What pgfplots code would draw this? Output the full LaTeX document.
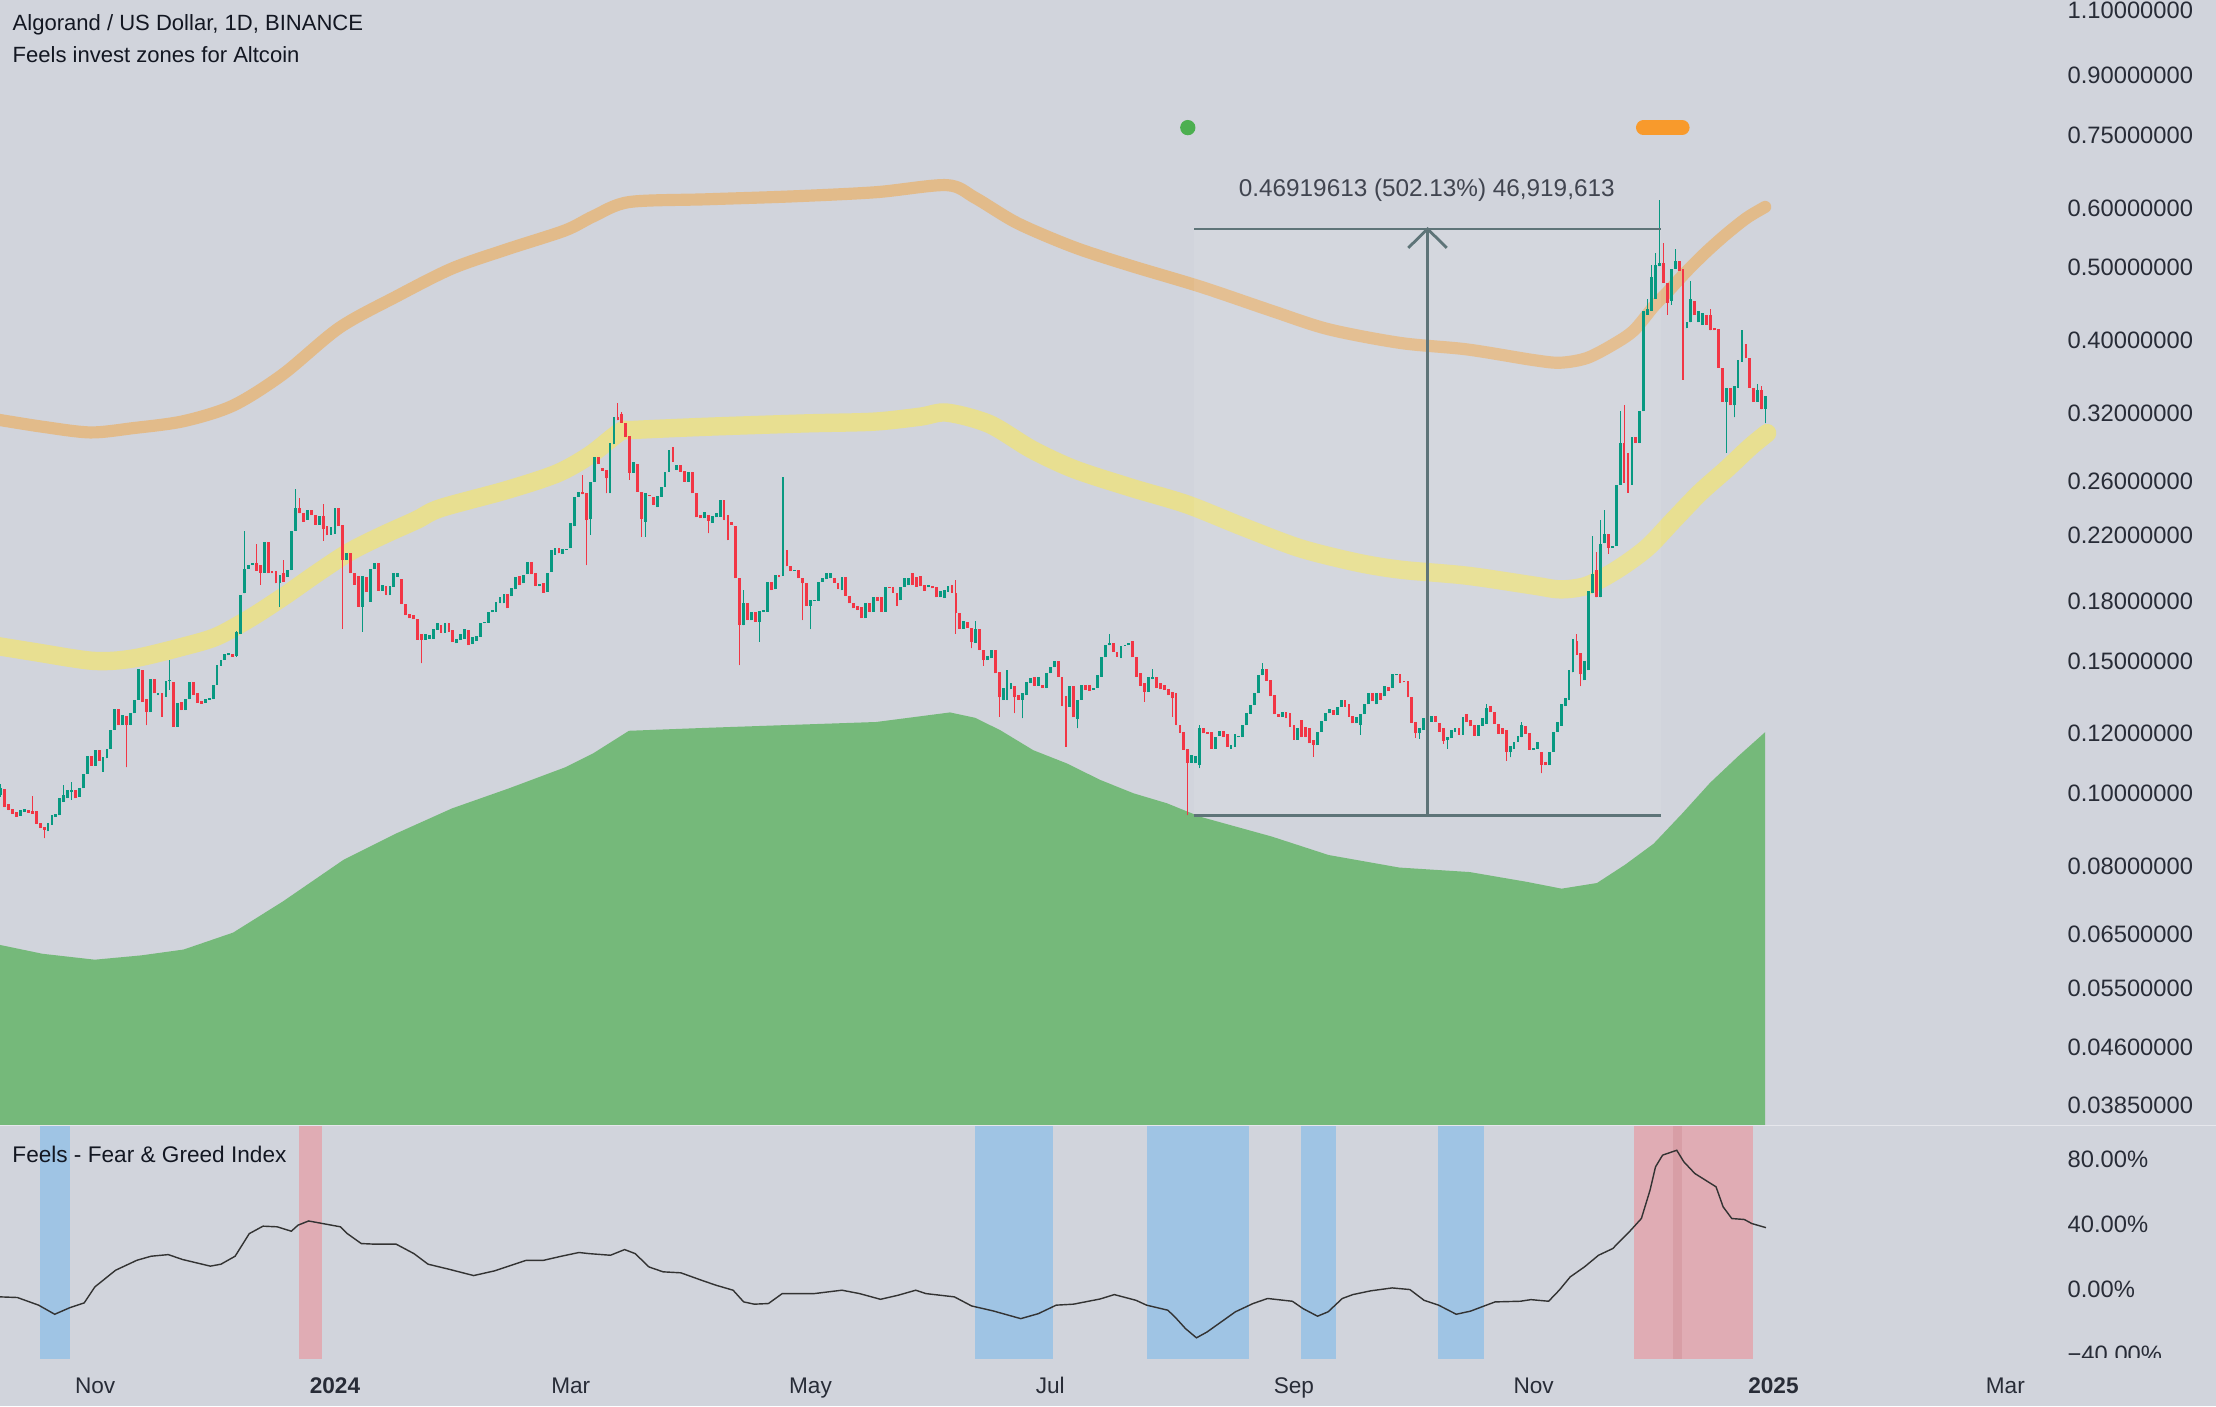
\documentclass[border=0pt]{standalone}
\usepackage{pgfplots}
\pgfplotsset{compat=1.18}
\usepackage{pgfplotstable}
\usepackage{fontspec}
\setmainfont{Liberation Sans}
\definecolor{bg}{RGB}{209,212,220}
\definecolor{upc}{RGB}{8,153,129}
\definecolor{dnc}{RGB}{242,54,69}
\definecolor{orb}{RGB}{226,187,138}
\definecolor{yeb}{RGB}{232,223,145}
\definecolor{gra}{RGB}{117,185,122}
\definecolor{txt}{RGB}{19,23,34}
\definecolor{lbl}{RGB}{40,44,55}
\definecolor{meas}{RGB}{94,116,120}
\definecolor{bluez}{RGB}{159,196,228}
\definecolor{redz}{RGB}{224,172,180}
\definecolor{redd}{RGB}{216,158,166}
\definecolor{dotg}{RGB}{76,175,80}
\definecolor{pill}{RGB}{248,154,44}
\pgfplotsset{candle/.style={only marks, mark size=0pt, mark options={draw=none, fill=none}}}

\pgfplotstableread{
x o c
-85 0.0995 0.1015
-84 0.1012 0.0959
-83 0.0968 0.0950
-82 0.0952 0.0940
-81 0.0945 0.0931
-80 0.0933 0.0950
-79 0.0945 0.0953
-78 0.0950 0.0942
-77 0.0947 0.0940
-76 0.0948 0.0911
-75 0.0912 0.0899
-74 0.0901 0.0894
-73 0.0890 0.0912
-72 0.0908 0.0935
-71 0.0931 0.0940
-70 0.0935 0.0985
-69 0.0975 0.0995
-68 0.0985 0.1010
-67 0.1005 0.1010
-66 0.1010 0.0985
-65 0.0990 0.1018
-64 0.1015 0.1062
-63 0.1062 0.1121
-62 0.1121 0.1088
-61 0.1088 0.1141
-60 0.1141 0.1105
-59 0.1105 0.1116
-58 0.1113 0.1147
-57 0.1147 0.1214
-56 0.1214 0.1293
-55 0.1293 0.1232
-54 0.1232 0.1271
-53 0.1267 0.1232
-52 0.1232 0.1277
-51 0.1277 0.1331
-50 0.1331 0.1462
-49 0.1459 0.1324
-48 0.1334 0.1284
-47 0.1281 0.1421
-46 0.1421 0.1358
-45 0.1351 0.1358
-44 0.1358 0.1344
-43 0.1344 0.1410
-42 0.1410 0.1413
-41 0.1407 0.1226
-40 0.1226 0.1320
-39 0.1324 0.1290
-38 0.1290 0.1334
-37 0.1334 0.1407
-36 0.1407 0.1351
-35 0.1361 0.1320
-34 0.1328 0.1315
-33 0.1320 0.1334
-32 0.1331 0.1337
-31 0.1334 0.1393
-30 0.1393 0.1481
-29 0.1478 0.1506
-28 0.1506 0.1531
-27 0.1525 0.1537
-26 0.1531 0.1518
-25 0.1522 0.1640
-24 0.1630 0.1834
-23 0.1844 0.1990
-22 0.1990 0.2011
-21 0.2011 0.2025
-20 0.2021 0.1976
-19 0.2011 0.1965
-18 0.1965 0.2160
-17 0.2160 0.1961
-16 0.1976 0.1961
-15 0.1976 0.1901
-14 0.1905 0.1950
-13 0.1961 0.1911
-12 0.1940 0.1980
-11 0.1980 0.2234
-10 0.2234 0.2397
-9 0.2397 0.2356
-8 0.2356 0.2297
-7 0.2309 0.2380
-6 0.2380 0.2344
-5 0.2344 0.2275
-4 0.2275 0.2337
-3 0.2337 0.2243
-2 0.2264 0.2203
-1 0.2208 0.2259
0 0.2212 0.2393
1 0.2393 0.2268
2 0.2272 0.2042
3 0.2042 0.2088
4 0.2084 0.1961
5 0.1961 0.1893
6 0.1946 0.1770
7 0.1770 0.1946
8 0.1942 0.1853
9 0.1798 0.1990
10 0.1990 0.2025
11 0.2021 0.1859
12 0.1859 0.1893
13 0.1887 0.1834
14 0.1834 0.1887
15 0.1883 0.1961
16 0.1940 0.1965
17 0.1925 0.1784
18 0.1784 0.1725
19 0.1734 0.1708
20 0.1725 0.1703
21 0.1703 0.1601
22 0.1630 0.1601
23 0.1601 0.1630
24 0.1605 0.1625
25 0.1606 0.1656
26 0.1651 0.1685
27 0.1673 0.1635
28 0.1635 0.1682
29 0.1685 0.1640
30 0.1648 0.1590
31 0.1582 0.1606
32 0.1601 0.1630
33 0.1606 0.1656
34 0.1651 0.1574
35 0.1579 0.1615
36 0.1595 0.1618
37 0.1615 0.1682
38 0.1682 0.1691
39 0.1686 0.1744
40 0.1740 0.1752
41 0.1744 0.1797
42 0.1788 0.1824
43 0.1788 0.1839
44 0.1839 0.1761
45 0.1828 0.1872
46 0.1867 0.1940
47 0.1944 0.1891
48 0.1901 0.1950
49 0.1956 0.2032
50 0.2032 0.1956
51 0.1960 0.1886
52 0.1886 0.1897
53 0.1901 0.1848
54 0.1853 0.1964
55 0.1970 0.2106
56 0.2074 0.2117
57 0.2117 0.2085
58 0.2080 0.2110
59 0.2106 0.2112
60 0.2117 0.2285
61 0.2266 0.2479
62 0.2479 0.2517
63 0.2517 0.2499
64 0.2504 0.2308
65 0.2313 0.2595
66 0.2595 0.2802
67 0.2802 0.2741
68 0.2705 0.2686
69 0.2689 0.2623
70 0.2631 0.2919
71 0.2913 0.3165
72 0.3165 0.3134
73 0.3190 0.3109
74 0.3103 0.2975
75 0.2981 0.2668
76 0.2668 0.2758
77 0.2743 0.2517
78 0.2517 0.2313
79 0.2297 0.2504
80 0.2491 0.2483
81 0.2479 0.2416
82 0.2400 0.2484
83 0.2479 0.2556
84 0.2556 0.2675
85 0.2675 0.2788
86 0.2796 0.2760
87 0.2689 0.2730
88 0.2735 0.2675
89 0.2683 0.2595
90 0.2595 0.2675
91 0.2675 0.2504
92 0.2504 0.2327
93 0.2343 0.2320
94 0.2320 0.2368
95 0.2343 0.2304
96 0.2290 0.2336
97 0.2327 0.2355
98 0.2332 0.2453
99 0.2453 0.2308
100 0.2313 0.2297
101 0.2297 0.2274
102 0.2267 0.1931
103 0.1931 0.1674
104 0.1674 0.1788
105 0.1788 0.1699
106 0.1699 0.1744
107 0.1744 0.1691
108 0.1691 0.1749
109 0.1744 0.1752
110 0.1744 0.1911
111 0.1911 0.1863
112 0.1867 0.1950
113 0.1950 0.1937
114 0.1945 0.2110
115 0.2106 0.2003
116 0.2003 0.1974
117 0.1980 0.1984
118 0.1984 0.1931
119 0.1931 0.1901
120 0.1901 0.1773
121 0.1773 0.1805
122 0.1802 0.1809
123 0.1802 0.1911
124 0.1911 0.1931
125 0.1925 0.1960
126 0.1931 0.1960
127 0.1935 0.1905
128 0.1905 0.1867
129 0.1863 0.1937
130 0.1937 0.1830
131 0.1830 0.1788
132 0.1788 0.1761
133 0.1773 0.1752
134 0.1770 0.1708
135 0.1708 0.1788
136 0.1788 0.1744
137 0.1744 0.1822
138 0.1822 0.1802
139 0.1822 0.1744
140 0.1744 0.1882
141 0.1882 0.1878
142 0.1882 0.1848
143 0.1848 0.1805
144 0.1805 0.1882
145 0.1882 0.1931
146 0.1891 0.1935
147 0.1964 0.1891
148 0.1940 0.1882
149 0.1945 0.1886
150 0.1891 0.1860
151 0.1878 0.1891
152 0.1886 0.1873
153 0.1882 0.1822
154 0.1822 0.1859
155 0.1817 0.1866
156 0.1853 0.1886
157 0.1891 0.1848
158 0.1848 0.1735
159 0.1738 0.1656
160 0.1656 0.1694
161 0.1690 0.1661
162 0.1661 0.1590
163 0.1585 0.1656
164 0.1656 0.1550
165 0.1553 0.1504
166 0.1504 0.1522
167 0.1511 0.1553
168 0.1553 0.1444
169 0.1451 0.1341
170 0.1330 0.1379
171 0.1375 0.1382
172 0.1375 0.1401
173 0.1389 0.1341
174 0.1351 0.1331
175 0.1331 0.1358
176 0.1351 0.1408
177 0.1401 0.1422
178 0.1429 0.1389
179 0.1389 0.1426
180 0.1394 0.1380
181 0.1380 0.1444
182 0.1444 0.1471
183 0.1471 0.1501
184 0.1501 0.1429
185 0.1429 0.1306
186 0.1345 0.1303
187 0.1303 0.1389
188 0.1389 0.1262
189 0.1255 0.1332
190 0.1332 0.1394
191 0.1394 0.1372
192 0.1394 0.1369
193 0.1372 0.1380
194 0.1380 0.1436
195 0.1429 0.1519
196 0.1516 0.1574
197 0.1574 0.1585
198 0.1585 0.1543
199 0.1543 0.1519
200 0.1511 0.1570
201 0.1570 0.1574
202 0.1573 0.1582
203 0.1594 0.1516
204 0.1519 0.1429
205 0.1446 0.1389
206 0.1401 0.1365
207 0.1365 0.1426
208 0.1418 0.1429
209 0.1429 0.1380
210 0.1401 0.1375
211 0.1394 0.1372
212 0.1375 0.1351
213 0.1365 0.1337
214 0.1358 0.1232
215 0.1232 0.1204
216 0.1208 0.1142
217 0.1144 0.1098
218 0.1098 0.1124
219 0.1096 0.1121
220 0.1091 0.1220
221 0.1220 0.1202
222 0.1205 0.1200
223 0.1205 0.1147
224 0.1147 0.1188
225 0.1191 0.1210
226 0.1210 0.1188
227 0.1198 0.1153
228 0.1147 0.1159
229 0.1153 0.1200
230 0.1188 0.1191
231 0.1188 0.1232
232 0.1232 0.1277
233 0.1275 0.1310
234 0.1310 0.1358
235 0.1358 0.1436
236 0.1436 0.1461
237 0.1461 0.1412
238 0.1415 0.1345
239 0.1351 0.1274
240 0.1274 0.1264
241 0.1264 0.1284
242 0.1284 0.1258
243 0.1280 0.1226
244 0.1232 0.1178
245 0.1178 0.1220
246 0.1250 0.1188
247 0.1226 0.1188
248 0.1220 0.1165
249 0.1177 0.1159
250 0.1159 0.1208
251 0.1208 0.1249
252 0.1249 0.1277
253 0.1277 0.1293
254 0.1290 0.1271
255 0.1271 0.1303
256 0.1303 0.1332
257 0.1332 0.1303
258 0.1313 0.1264
259 0.1267 0.1239
260 0.1239 0.1264
261 0.1232 0.1274
262 0.1274 0.1313
263 0.1313 0.1358
264 0.1361 0.1325
265 0.1313 0.1358
266 0.1358 0.1331
267 0.1345 0.1387
268 0.1385 0.1368
269 0.1380 0.1441
270 0.1436 0.1441
271 0.1441 0.1401
272 0.1412 0.1404
273 0.1412 0.1341
274 0.1341 0.1242
275 0.1245 0.1202
276 0.1202 0.1220
277 0.1215 0.1260
278 0.1275 0.1252
279 0.1245 0.1268
280 0.1268 0.1245
281 0.1242 0.1207
282 0.1222 0.1174
283 0.1178 0.1188
284 0.1183 0.1215
285 0.1207 0.1222
286 0.1222 0.1197
287 0.1197 0.1263
288 0.1275 0.1245
289 0.1252 0.1227
290 0.1232 0.1193
291 0.1193 0.1232
292 0.1230 0.1260
293 0.1237 0.1298
294 0.1306 0.1282
295 0.1282 0.1237
296 0.1237 0.1200
297 0.1222 0.1200
298 0.1215 0.1136
299 0.1136 0.1157
300 0.1146 0.1171
301 0.1171 0.1193
302 0.1188 0.1232
303 0.1230 0.1200
304 0.1203 0.1143
305 0.1143 0.1150
306 0.1146 0.1171
307 0.1136 0.1091
308 0.1102 0.1089
309 0.1089 0.1136
310 0.1136 0.1207
311 0.1207 0.1245
312 0.1230 0.1314
313 0.1306 0.1338
314 0.1330 0.1457
315 0.1448 0.1586
316 0.1595 0.1529
317 0.1538 0.1439
318 0.1413 0.1500
319 0.1457 0.1855
320 0.1844 0.1959
321 0.1982 0.1822
322 0.1822 0.2145
323 0.2150 0.2213
324 0.2211 0.2120
325 0.2120 0.2133
326 0.2133 0.2573
327 0.2573 0.2922
328 0.2922 0.2588
329 0.2834 0.2573
330 0.2573 0.2975
331 0.2975 0.2922
332 0.2922 0.3220
333 0.3220 0.4383
334 0.4330 0.4410
335 0.4383 0.4858
336 0.4545 0.5035
337 0.5018 0.5067
338 0.5067 0.4771
339 0.4771 0.4490
340 0.4518 0.4978
341 0.4978 0.5099
342 0.5099 0.4948
343 0.4978 0.4149
344 0.4149 0.4236
345 0.4227 0.4545
346 0.4518 0.4330
347 0.4227 0.4383
348 0.4199 0.4356
349 0.4330 0.4199
350 0.4330 0.4124
351 0.4149 0.4124
352 0.4137 0.3677
353 0.3677 0.3317
354 0.3317 0.3462
355 0.3462 0.3278
356 0.3278 0.3483
357 0.3462 0.3745
358 0.3745 0.3979
359 0.3955 0.3790
360 0.3790 0.3462
361 0.3462 0.3317
362 0.3317 0.3441
363 0.3441 0.3238
364 0.3246 0.3379
}\candles

\pgfplotstableread{
x l h u
-85 0.0990 0.1028 1
-77 0.0940 0.0992 0
-74 0.0871 0.0901 0
-69 0.0975 0.1026 1
-67 0.0980 0.1036 1
-59 0.1068 0.1116 1
-53 0.1083 0.1267 0
-48 0.1232 0.1334 0
-44 0.1264 0.1358 0
-42 0.1373 0.1503 1
-25 0.1518 0.1645 1
-23 0.1844 0.2234 1
-20 0.1976 0.2148 0
-19 0.1893 0.2011 0
-14 0.1770 0.1950 1
-13 0.1911 0.2042 0
-10 0.2234 0.2537 1
-9 0.2356 0.2467 0
-3 0.2168 0.2428 0
2 0.1656 0.2272 0
7 0.1640 0.1946 1
22 0.1488 0.1630 0
63 0.2499 0.2649 0
64 0.2011 0.2504 0
65 0.2205 0.2595 1
69 0.2504 0.2689 0
70 0.2504 0.2919 1
72 0.3134 0.3301 0
73 0.3109 0.3212 0
75 0.2610 0.2981 0
78 0.2193 0.2517 0
79 0.2193 0.2504 1
85 0.2675 0.2859 1
86 0.2760 0.2890 0
95 0.2216 0.2343 0
100 0.2171 0.2343 0
103 0.1481 0.1931 0
104 0.1674 0.1866 1
108 0.1590 0.1749 1
114 0.1945 0.2635 1
119 0.1699 0.1931 0
121 0.1653 0.1805 1
143 0.1776 0.1848 0
158 0.1631 0.1922 0
162 0.1559 0.1661 0
163 0.1585 0.1694 1
165 0.1477 0.1553 0
169 0.1264 0.1451 0
171 0.1330 0.1460 1
173 0.1278 0.1389 0
175 0.1258 0.1358 1
186 0.1153 0.1345 0
189 0.1220 0.1332 1
197 0.1574 0.1630 1
206 0.1324 0.1401 0
208 0.1418 0.1465 1
213 0.1265 0.1365 0
217 0.0935 0.1144 0
220 0.1080 0.1232 1
236 0.1436 0.1489 1
249 0.1119 0.1177 0
261 0.1196 0.1274 1
275 0.1185 0.1245 0
276 0.1182 0.1220 1
282 0.1164 0.1222 0
283 0.1146 0.1188 1
293 0.1237 0.1314 1
298 0.1105 0.1215 0
299 0.1116 0.1157 1
302 0.1188 0.1245 1
307 0.1063 0.1136 0
315 0.1448 0.1605 1
316 0.1529 0.1631 0
317 0.1388 0.1538 0
320 0.1844 0.2198 1
321 0.1822 0.2094 0
322 0.1822 0.2307 1
323 0.2150 0.2378 1
324 0.2082 0.2211 0
327 0.2573 0.3220 1
328 0.2588 0.3279 0
329 0.2511 0.2834 0
334 0.4330 0.4545 1
335 0.4383 0.5035 1
336 0.4545 0.5224 1
337 0.5018 0.6151 1
338 0.4771 0.5385 0
339 0.4330 0.4771 0
340 0.4463 0.4978 1
341 0.4978 0.5288 1
343 0.3546 0.4978 0
345 0.4227 0.4800 1
350 0.4124 0.4410 0
354 0.2834 0.3462 1
356 0.3161 0.3483 1
357 0.3462 0.3767 1
358 0.3745 0.4124 1
362 0.3317 0.3504 1
363 0.3238 0.3483 0
364 0.3104 0.3379 1
}\wicks

\begin{document}
\begin{tikzpicture}
\fill[bg] (0,0) rectangle (784pt,497.5pt);
\useasboundingbox (0,0) rectangle (784pt,497.5pt);

\begin{axis}[
  at={(0pt,497.5pt)}, anchor=north west,
  scale only axis, width=723.5pt, height=398pt,
  xmin=-85.22, xmax=435.1,
  ymode=log, ymin=0.03624, ymax=1.1338,
  axis line style={draw=none}, tick style={draw=none}, major tick length=0pt,
  xtick=\empty,
  ytick={0.0385,0.046,0.055,0.065,0.08,0.1,0.12,0.15,0.18,0.22,0.26,0.32,0.4,0.5,0.6,0.75,0.9,1.1},
  yticklabels={0.03850000,0.04600000,0.05500000,0.06500000,0.08000000,0.10000000,0.12000000,0.15000000,0.18000000,0.22000000,0.26000000,0.32000000,0.40000000,0.50000000,0.60000000,0.75000000,0.90000000,1.10000000},
  yticklabel pos=right,
  yticklabel style={anchor=west, inner sep=0pt, xshift=7.8pt, font=\fontsize{8.4}{10}\selectfont, text=lbl},
]
% lower zone (green area)
\addplot[fill=gra, draw=none] coordinates {
(-86,0.0630) (-74.4,0.0612) (-61.1,0.0601) (-49.3,0.0609) (-38.5,0.0620) (-25.9,0.0653) (-13.3,0.0718) (2.2,0.0816) (15.5,0.0884) (29.8,0.0955) (44.2,0.1015) (58.6,0.1083) (65.8,0.1131) (74.8,0.1211) (94.6,0.1222) (116.1,0.1233) (137.7,0.1244) (156.5,0.1281) (162.9,0.1260) (169.3,0.1213) (177.7,0.1141) (186.2,0.1096) (194.7,0.1042) (203.2,0.1000) (211.7,0.0970) (220.1,0.0931) (238.4,0.0876) (252.8,0.0828) (270.8,0.0797) (288.7,0.0786) (303.1,0.0763) (312.1,0.0747) (321.1,0.0760) (328.3,0.0804) (335.5,0.0857) (342.7,0.0939) (349.9,0.1033) (357.1,0.1121) (363.9,0.1206) (363.9,0.02) (-86,0.02)} -- cycle;
% upper band
\addplot[orb, line width=4.3pt, smooth, line cap=round] coordinates {
(-86,0.3140) (-74.4,0.3071) (-62.2,0.3018) (-51.4,0.3058) (-38.5,0.3124) (-25.9,0.3277) (-13.3,0.3604) (1.1,0.4157) (15.5,0.4572) (29.8,0.4985) (44.2,0.5295) (58.6,0.5602) (65.8,0.5850) (74.8,0.6108) (94.6,0.6161) (116.1,0.6215) (137.7,0.6296) (155.7,0.6434) (162.9,0.6188) (173.7,0.5725) (188.1,0.5319) (202.4,0.5028) (220.4,0.4712) (238.4,0.4378) (252.8,0.4139) (271.1,0.3969) (288.0,0.3892) (304.9,0.3767) (311.8,0.3736) (318.6,0.3791) (325.4,0.3955) (330.5,0.4125) (335.5,0.4435) (338.9,0.4628) (344.0,0.4947) (349.1,0.5255) (354.2,0.5549) (359.3,0.5824) (363.9,0.6019)};
% middle band
\addplot[yeb, line width=6.5pt, smooth, line cap=round] coordinates {
(-86,0.1570) (-76.7,0.1542) (-61.5,0.1500) (-51.3,0.1511) (-38.6,0.1567) (-30.1,0.1616) (-21.6,0.1709) (-13.1,0.1826) (-4.6,0.1961) (3.8,0.2095) (12.3,0.2205) (20.8,0.2309) (26.8,0.2393) (43.7,0.2530) (56.5,0.2662) (64.9,0.2816) (72.6,0.3025) (75.9,0.3041) (94.6,0.3071) (120.1,0.3103) (137.0,0.3119) (148.9,0.3167) (155.7,0.3207) (166.5,0.3097) (177.3,0.2865) (188.1,0.2697) (202.4,0.2550) (216.8,0.2421) (231.2,0.2259) (245.6,0.2117) (260.0,0.2027) (271.1,0.1983) (288.0,0.1947) (305.0,0.1889) (311.8,0.1867) (318.6,0.1889) (326.2,0.1983) (333.8,0.2119) (340.6,0.2308) (347.4,0.2512) (354.2,0.2701) (360.1,0.2887) (364.4,0.3012)};
% measure box
\addplot[draw=none, fill=white, fill opacity=0.07] coordinates {(218.6,0.09344) (337.3,0.09344) (337.3,0.5626) (218.6,0.5626)} -- cycle;
% wicks
\addplot[candle, restrict expr to domain={\thisrow{u}}{0.5:1.5},
  error bars/.cd, y dir=plus, y explicit, error mark=none, error bar style={line width=0.4pt, draw=upc}]
  table[x=x, y=l, y error plus expr=\thisrow{h}-\thisrow{l}] {\wicks};
\addplot[candle, restrict expr to domain={\thisrow{u}}{-0.5:0.5},
  error bars/.cd, y dir=plus, y explicit, error mark=none, error bar style={line width=0.4pt, draw=dnc}]
  table[x=x, y=l, y error plus expr=\thisrow{h}-\thisrow{l}] {\wicks};
% bodies
\addplot[candle, restrict expr to domain={\thisrow{c}-\thisrow{o}}{0:1},
  error bars/.cd, y dir=plus, y explicit, error mark=none, error bar style={line width=1pt, draw=upc}]
  table[x=x, y=o, y error plus expr=\thisrow{c}-\thisrow{o}] {\candles};
\addplot[candle, restrict expr to domain={\thisrow{o}-\thisrow{c}}{0.000001:1},
  error bars/.cd, y dir=plus, y explicit, error mark=none, error bar style={line width=1pt, draw=dnc}]
  table[x=x, y=c, y error plus expr=\thisrow{o}-\thisrow{c}] {\candles};
% measure lines
\addplot[meas, line width=1pt] coordinates {(218.6,0.5626) (337.3,0.5626)};
\addplot[meas, line width=1pt] coordinates {(218.6,0.09344) (337.3,0.09344)};
\addplot[meas, line width=1pt] coordinates {(278,0.09344) (278,0.5626)};
\addplot[meas, line width=1pt] coordinates {(273.1,0.5310) (278,0.5626) (282.9,0.5310)};
\node[anchor=base, inner sep=0pt, font=\fontsize{8.6}{10}\selectfont, text=lbl!85!bg] at (axis cs:277.8,0.621) {0.46919613 (502.13\%) 46,919,613};
% signals
\addplot[only marks, mark=*, mark size=2.5pt, dotg, mark options={draw=dotg, fill=dotg}] coordinates {(217.0,0.7673)};
\addplot[pill, line width=5.2pt, line cap=round] coordinates {(332.9,0.7673) (342.8,0.7673)};
\end{axis}

\begin{axis}[
  at={(0pt,99pt)}, anchor=north west,
  scale only axis, width=723.5pt, height=82pt,
  xmin=-85.22, xmax=435.1, ymin=-42.6, ymax=100,
  axis line style={draw=none}, tick style={draw=none}, major tick length=0pt,
  xtick={-61,0,60,121,182,244,305,366,425},
  xticklabels={Nov,\textbf{2024},Mar,May,Jul,Sep,Nov,\textbf{2025},Mar},
  xticklabel style={anchor=base, inner sep=0pt, yshift=-12.5pt, font=\fontsize{8}{10}\selectfont, text=lbl},
  ytick={-40,0,40,80},
  yticklabels={−40.00\%,0.00\%,40.00\%,80.00\%},
  yticklabel pos=right,
  yticklabel style={anchor=west, inner sep=0pt, xshift=7.8pt, font=\fontsize{8.4}{10}\selectfont, text=lbl},
]
\addplot[fill=bluez, draw=none] coordinates {(-75.0,-50) (-67.4,-50) (-67.4,110) (-75.0,110)} -- cycle;
\addplot[fill=redz, draw=none] coordinates {(-9.2,-50) (-3.3,-50) (-3.3,110) (-9.2,110)} -- cycle;
\addplot[fill=bluez, draw=none] coordinates {(162.9,-50) (182.7,-50) (182.7,110) (162.9,110)} -- cycle;
\addplot[fill=bluez, draw=none] coordinates {(206.7,-50) (232.6,-50) (232.6,110) (206.7,110)} -- cycle;
\addplot[fill=bluez, draw=none] coordinates {(245.8,-50) (254.7,-50) (254.7,110) (245.8,110)} -- cycle;
\addplot[fill=bluez, draw=none] coordinates {(280.7,-50) (292.4,-50) (292.4,110) (280.7,110)} -- cycle;
\addplot[fill=redz, draw=none] coordinates {(330.6,-50) (360.7,-50) (360.7,110) (330.6,110)} -- cycle;
\addplot[fill=redd, draw=none] coordinates {(340.5,-50) (342.7,-50) (342.7,110) (340.5,110)} -- cycle;
\addplot[black!80, line width=0.5pt] coordinates {
(-85.2,-4.9) (-80.8,-5.3) (-75.4,-10.0) (-71.3,-15.6) (-67.4,-11.5) (-63.8,-8.6) (-61.1,1.2) (-55.8,11.5) (-50.4,17.6) (-46.8,20.1) (-42.4,21.1) (-38.8,18.1) (-31.7,14.0) (-29.0,15.2) (-25.4,20.1) (-21.8,34.0) (-18.3,38.6) (-14.7,38.2) (-11.1,35.5) (-9.4,39.2) (-6.7,41.8) (-3.1,40.2) (1.4,38.2) (3.1,34.1) (6.7,27.9) (10.3,27.5) (15.6,27.5) (20.1,21.7) (23.7,15.2) (29.0,12.1) (35.3,8.2) (40.6,11.1) (48.7,17.6) (53.1,17.6) (57.6,20.1) (62.1,22.4) (64.7,21.7) (70.1,20.7) (73.7,24.2) (76.4,21.7) (79.9,13.5) (83.5,10.5) (88.0,9.9) (93.3,5.3) (96.9,2.3) (101.3,-0.8) (104.0,-8.0) (106.7,-9.4) (110.3,-9.0) (113.8,-2.9) (121.9,-2.9) (129.0,-0.8) (133.5,-2.9) (138.8,-6.4) (143.3,-3.9) (147.8,-0.8) (150.4,-2.9) (157.6,-4.9) (162.0,-10.5) (167.4,-13.5) (174.5,-18.3) (179.0,-15.2) (183.5,-10.0) (187.9,-9.4) (194.7,-6.2) (198.3,-3.5) (203.8,-7.0) (206.5,-10.0) (211.9,-13.1) (213.7,-17.2) (216.4,-24.4) (219.2,-30.1) (221.9,-26.5) (225.5,-20.3) (229.1,-14.1) (233.6,-9.0) (237.3,-5.9) (243.6,-7.6) (246.3,-12.1) (250.0,-16.8) (252.7,-14.1) (256.3,-5.9) (259.0,-3.5) (263.5,-1.2) (269.0,0.6) (273.5,-0.4) (277.1,-7.0) (280.8,-10.0) (285.3,-15.6) (288.9,-13.7) (293.4,-9.6) (295.2,-8.0) (301.6,-7.6) (304.3,-6.6) (308.8,-7.6) (311.5,-0.8) (314.3,7.4) (317.9,13.5) (321.5,20.7) (325.1,24.8) (329.7,36.1) (332.4,43.3) (334.6,60.7) (336.0,75.1) (337.8,82.3) (341.4,85.3) (343.2,78.2) (346.0,71.0) (348.7,66.9) (351.4,62.8) (353.2,50.5) (355.4,43.3) (358.6,42.7) (360.5,40.2) (364.1,37.7)};
\end{axis}

% clip the lowest percent label as the pane edge does
\fill[bg] (724pt,11pt) rectangle (784pt,17pt);
% pane separator
\draw[white!45!bg, line width=0.5pt] (0,99.25pt) -- (784pt,99.25pt);
% titles
\node[anchor=base west, inner sep=0pt, font=\fontsize{7.8}{9}\selectfont, text=txt] at (4.3pt,486.6pt) {Algorand / US Dollar, 1D, BINANCE};
\node[anchor=base west, inner sep=0pt, font=\fontsize{7.8}{9}\selectfont, text=txt] at (4.3pt,475.4pt) {Feels invest zones for Altcoin};
\node[anchor=base west, inner sep=0pt, font=\fontsize{8}{9}\selectfont, text=txt] at (4.2pt,86.2pt) {Feels - Fear \& Greed Index};
\end{tikzpicture}
\end{document}
